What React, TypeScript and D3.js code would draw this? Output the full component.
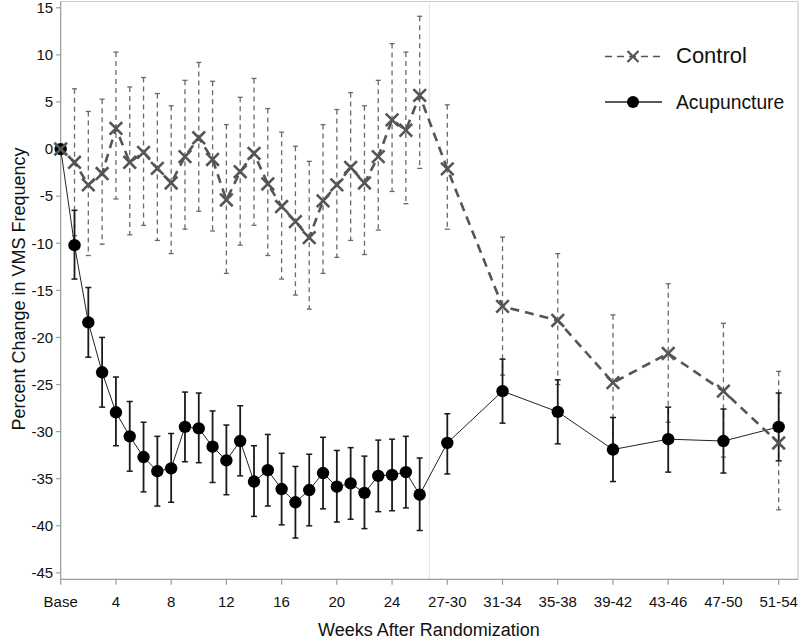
import React from "react";
import * as d3 from "d3";

const positions = [0, 1, 2, 3, 4, 5, 6, 7, 8, 9, 10, 11, 12, 13, 14, 15, 16, 17, 18, 19, 20, 21, 22, 23, 24, 25, 26, 28, 32, 36, 40, 44, 48, 52];

const ctrlMean = [0, -1.4, -3.8, -2.6, 2.2, -1.4, -0.35, -2.05, -3.6, -0.8, 1.2, -1.1, -5.4, -2.4, -0.46, -3.7, -6.1, -7.7, -9.4, -5.5, -3.8, -1.95, -3.6, -0.8, 3.1, 2.0, 5.7, -2.1, -16.7, -18.2, -24.8, -21.7, -25.7, -31.2];
const ctrlUpper = [null, 6.4, 4.0, 5.3, 10.3, 6.6, 7.6, 5.9, 4.6, 7.3, 9.2, 7.2, 2.6, 5.5, 7.5, 4.3, 1.8, 0.3, -1.3, 2.6, 4.2, 6.0, 4.6, 7.3, 11.2, 10.3, 14.1, 4.7, -9.35, -11.1, -17.6, -14.3, -18.5, -23.6];
const ctrlLower = [null, -9.2, -11.3, -10.1, -5.3, -9.1, -8.1, -9.7, -11.1, -8.5, -6.6, -8.7, -13.2, -10.2, -8.1, -11.3, -13.8, -15.5, -17.0, -13.2, -11.5, -9.7, -11.2, -8.6, -4.5, -5.8, -2.05, -8.5, -24.0, -25.0, -32.0, -29.0, -32.7, -38.3];

const acuMean = [0, -10.2, -18.4, -23.7, -27.95, -30.5, -32.7, -34.2, -33.9, -29.5, -29.65, -31.6, -33.05, -31.0, -35.3, -34.1, -36.1, -37.5, -36.2, -34.4, -35.85, -35.5, -36.5, -34.7, -34.6, -34.3, -36.7, -31.2, -25.7, -27.9, -31.9, -30.8, -31.0, -29.5];
const acuUpper = [null, -6.5, -14.7, -20.0, -24.2, -26.8, -29.0, -30.5, -30.2, -25.8, -25.9, -27.8, -29.3, -27.25, -31.5, -30.3, -32.3, -33.7, -32.4, -30.6, -32.0, -31.7, -32.6, -30.9, -30.8, -30.5, -32.8, -28.1, -22.3, -24.5, -28.5, -27.4, -27.6, -25.9];
const acuLower = [null, -13.8, -22.1, -27.4, -31.5, -34.2, -36.4, -37.9, -37.5, -33.2, -33.3, -35.4, -36.7, -34.7, -39.0, -37.9, -39.9, -41.3, -40.0, -38.2, -39.6, -39.3, -40.3, -38.5, -38.4, -38.1, -40.5, -34.5, -29.1, -31.3, -35.3, -34.3, -34.4, -33.1];

const xTickPos = [0, 4, 8, 12, 16, 20, 24, 28, 32, 36, 40, 44, 48, 52];
const xTickLabels = ["Base", "4", "8", "12", "16", "20", "24", "27-30", "31-34", "35-38", "39-42", "43-46", "47-50", "51-54"];
const yTicks = [15, 10, 5, 0, -5, -10, -15, -20, -25, -30, -35, -40, -45];
const refLinePos = 26.7;

const seriesNames = ["Control", "Acupuncture"];

const W = 800, H = 641;
const left = 60.7, right = 798, top = 1.5, bottom = 579.3;
const FONT = "'Liberation Sans', Arial, sans-serif";

export default function App() {
  const x = d3.scaleLinear().domain([0, 53.4]).range([left, right]);
  const y = d3.scaleLinear().domain([-45.68, 15.67]).range([bottom, top]);

  const ctrlPts = positions.map((p, i) => [x(p), y(ctrlMean[i])] as [number, number]);
  const acuPts = positions.map((p, i) => [x(p), y(acuMean[i])] as [number, number]);
  const line = d3.line();

  const ctrlColor = "#555555";
  const ctrlBarColor = "#6a6a6a";
  const cross = (cx: number, cy: number, s: number, key: string, sw = 2.6) => (
    <path key={key} d={`M${cx - s},${cy - s}L${cx + s},${cy + s}M${cx - s},${cy + s}L${cx + s},${cy - s}`} stroke={ctrlColor} strokeWidth={sw} fill="none" />
  );

  return (
    <svg width={W} height={H} style={{ position: "absolute", left: 0, top: 0, background: "#fff" }}>
      <rect x={0} y={0} width={W} height={H} fill="#fff" />
      {/* frame */}
      <line x1={left} x2={right} y1={top} y2={top} stroke="#c8c8c8" strokeWidth={1.2} />
      <line x1={right} x2={right} y1={top} y2={bottom} stroke="#c8c8c8" strokeWidth={1.2} />
      <line x1={x(refLinePos)} x2={x(refLinePos)} y1={top} y2={bottom} stroke="#e2e2e2" strokeWidth={1} />
      <line x1={left} x2={left} y1={top} y2={bottom} stroke="#9a9a9a" strokeWidth={1.2} />
      <line x1={left} x2={right} y1={bottom} y2={bottom} stroke="#9a9a9a" strokeWidth={1.2} />

      {/* y ticks */}
      {yTicks.map((t) => (
        <g key={"y" + t}>
          <line x1={left - 4.5} x2={left} y1={y(t)} y2={y(t)} stroke="#9a9a9a" strokeWidth={1.2} />
          <text x={left - 7.5} y={y(t) + 5.3} textAnchor="end" fontFamily={FONT} fontSize={15} fill="#111">{t}</text>
        </g>
      ))}
      {/* x ticks */}
      {xTickPos.map((p, i) => (
        <g key={"x" + p}>
          <line x1={x(p)} x2={x(p)} y1={bottom} y2={bottom + 5.5} stroke="#9a9a9a" strokeWidth={1.2} />
          <text x={x(p)} y={607} textAnchor="middle" fontFamily={FONT} fontSize={15} fill="#111">{xTickLabels[i]}</text>
        </g>
      ))}

      <text x={429} y={636} textAnchor="middle" fontFamily={FONT} fontSize={18} fill="#111">Weeks After Randomization</text>
      <text transform={`translate(25,${289}) rotate(-90)`} textAnchor="middle" fontFamily={FONT} fontSize={18} fill="#111">Percent Change in VMS Frequency</text>

      {/* control error bars */}
      {positions.map((p, i) => ctrlUpper[i] == null ? null : (
        <g key={"ce" + i}>
          <line x1={x(p)} x2={x(p)} y1={y(ctrlUpper[i] as number)} y2={y(ctrlLower[i] as number)} stroke={ctrlBarColor} strokeWidth={1.3} strokeDasharray="5,4" />
          <line x1={x(p) - 2.5} x2={x(p) + 2.5} y1={y(ctrlUpper[i] as number)} y2={y(ctrlUpper[i] as number)} stroke={ctrlBarColor} strokeWidth={1.3} />
          <line x1={x(p) - 2.5} x2={x(p) + 2.5} y1={y(ctrlLower[i] as number)} y2={y(ctrlLower[i] as number)} stroke={ctrlBarColor} strokeWidth={1.3} />
        </g>
      ))}

      {/* acupuncture error bars */}
      {positions.map((p, i) => acuUpper[i] == null ? null : (
        <g key={"ae" + i}>
          <line x1={x(p)} x2={x(p)} y1={y(acuUpper[i] as number)} y2={y(acuLower[i] as number)} stroke="#1a1a1a" strokeWidth={1.8} />
          <line x1={x(p) - 3} x2={x(p) + 3} y1={y(acuUpper[i] as number)} y2={y(acuUpper[i] as number)} stroke="#1a1a1a" strokeWidth={1.5} />
          <line x1={x(p) - 3} x2={x(p) + 3} y1={y(acuLower[i] as number)} y2={y(acuLower[i] as number)} stroke="#1a1a1a" strokeWidth={1.5} />
        </g>
      ))}

      {/* acupuncture line & markers */}
      <path d={line(acuPts) || ""} fill="none" stroke="#222" strokeWidth={1} />
      {acuPts.map(([cx, cy], i) => (
        <circle key={"ac" + i} cx={cx} cy={cy} r={6.2} fill="#000" />
      ))}

      {/* control line & markers */}
      <path d={line(ctrlPts) || ""} fill="none" stroke={ctrlColor} strokeWidth={2.6} strokeDasharray="9,6" />
      {ctrlPts.map(([cx, cy], i) => cross(cx, cy, 6.3, "cx" + i))}

      {/* legend */}
      <line x1={605} x2={661} y1={56.5} y2={56.5} stroke={ctrlColor} strokeWidth={1.5} strokeDasharray="7,5" />
      {cross(633, 56.5, 5.5, "lc", 2.2)}
      <text x={676} y={63.3} fontFamily={FONT} fontSize={22} fill="#111">{seriesNames[0]}</text>
      <line x1={605} x2={662} y1={102} y2={102} stroke="#222" strokeWidth={1.5} />
      <circle cx={633} cy={102} r={6} fill="#000" />
      <text x={676} y={109} fontFamily={FONT} fontSize={19.3} fill="#111">{seriesNames[1]}</text>
    </svg>
  );
}
